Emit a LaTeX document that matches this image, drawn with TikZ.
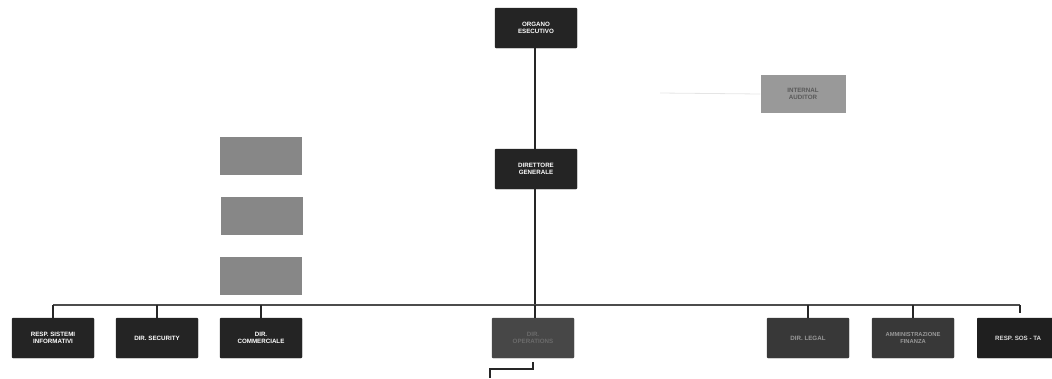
\documentclass[tikz,border=0pt]{standalone}
\usepackage{fontspec}
\setmainfont{Liberation Sans}
\begin{document}
\begin{tikzpicture}[x=1pt,y=-1pt,
  dbox/.style={draw=#1,fill=#1,minimum width=82pt,minimum height=40pt,inner sep=1pt,
    align=center,text=white,font=\fontsize{6.2}{7.4}\selectfont\bfseries,rounded corners=1pt},
  dbox/.default={black!86},
  gbox/.style={fill=black!47,minimum width=82pt,minimum height=38pt,inner sep=0pt},
  abox/.style={fill=black!40,minimum width=85pt,minimum height=38pt,align=center,
    font=\fontsize{6.2}{7.4}\selectfont\bfseries,text=black!65},
  link/.style={draw=black!85,line width=1.6pt},
  bus/.style={draw=black!70,line width=1.4pt}]
\useasboundingbox (0,0) rectangle (1052,378);
% top
\node[dbox] (oe) at (536,28) {ORGANO\\ESECUTIVO};
\node[abox] (ia) at (803,94) {INTERNAL\\AUDITOR};
\node[dbox] (dg) at (536,169) {DIRETTORE\\GENERALE};
% gray blocks
\node[gbox] (g1) at (261,156) {};
\node[gbox] (g2) at (262,216) {};
\node[gbox] (g3) at (261,276) {};
% bottom row
\node[dbox] (b1) at (53,338) {RESP. SISTEMI\\INFORMATIVI};
\node[dbox] (b2) at (157,338) {DIR. SECURITY};
\node[dbox] (b3) at (261,338) {DIR.\\COMMERCIALE};
\node[dbox={black!72},text=black!58] (b4) at (533,338) {DIR.\\OPERATIONS};
\node[dbox={black!78},text=black!40] (b5) at (808,338) {DIR. LEGAL};
\node[dbox={black!78},text=black!40,font=\fontsize{5.8}{7.4}\selectfont\bfseries] (b6) at (913,338) {AMMINISTRAZIONE\\FINANZA};
\node[dbox={black!88},anchor=west,text=black!15] (b7) at (977,338) {RESP. SOS - TA};
% connectors
\coordinate (bl) at (53,305);
\coordinate (br) at (1020,305);
\coordinate (bm) at (535,305);
\draw[link] (535,48) -- (535,149);
\draw[link] (535,189) -- (bm);
\draw[bus] (bl) -- (br);
\foreach \n in {b1,b2,b3,b5,b6}{
  \draw[link] (\n.north |- bl) -- (\n.north);
}
\draw[link] (bm) -- (535,318);
\draw[link] (br) -- (1020,313);
\draw[draw=black!10,line width=0.8pt] (660,93) -- (ia.west);
\coordinate (k1) at (533,362);
\coordinate (k2) at (490,378);
\draw[link,line width=1.3pt] (k1) -- (533,369) -- (490,369) -- (k2);
\end{tikzpicture}
\end{document}
